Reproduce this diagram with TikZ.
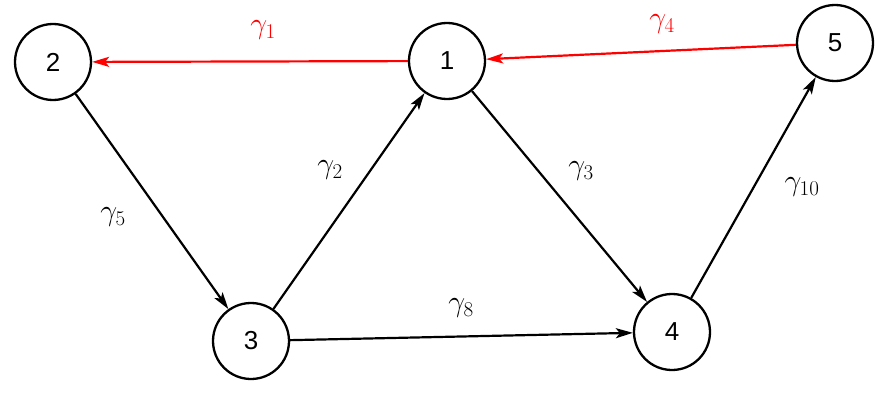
\RequirePackage{fix-cm}
\documentclass[tikz,border=0pt]{standalone}
\usepackage{fontspec}
\newfontfamily\numfont{Liberation Sans}
\usetikzlibrary{arrows.meta}
\begin{document}
\begin{tikzpicture}[x=1pt,y=-1pt,
  vert/.style={circle,draw=black,line width=2.3pt,minimum size=76pt,inner sep=0pt,font=\numfont\fontsize{26}{30}\selectfont},
  edge/.style={line width=2.2pt,-{Stealth[length=17pt,width=10pt,inset=4pt]}},
  redge/.style={edge,red},
  lab/.style={inner sep=0pt,font=\fontsize{30}{34}\selectfont}]
\useasboundingbox (0,0) rectangle (886,404);
\node[vert] (n2) at (53,62) {2};
\node[vert] (n1) at (447,61) {1};
\node[vert] (n5) at (835,43) {5};
\node[vert] (n3) at (251,341) {3};
\node[vert] (n4) at (672,332) {4};
\draw[redge] (n1) -- (n2);
\draw[redge] (n5) -- (n1);
\draw[edge] (n2) -- (n3);
\draw[edge] (n3) -- (n1);
\draw[edge] (n1) -- (n4);
\draw[edge] (n3) -- (n4);
\draw[edge] (n4) -- (n5);
\node[lab,red] (g1) at (263,30) {$\gamma_1$};
\node[lab,red] (g4) at (662,24) {$\gamma_4$};
\node[lab] (g5) at (113,217) {$\gamma_5$};
\node[lab] (g2) at (330,170) {$\gamma_2$};
\node[lab] (g3) at (581,171) {$\gamma_3$};
\node[lab] (g10) at (802,187) {$\gamma_{10}$};
\node[lab] (g8) at (461,308) {$\gamma_8$};
\end{tikzpicture}
\end{document}
